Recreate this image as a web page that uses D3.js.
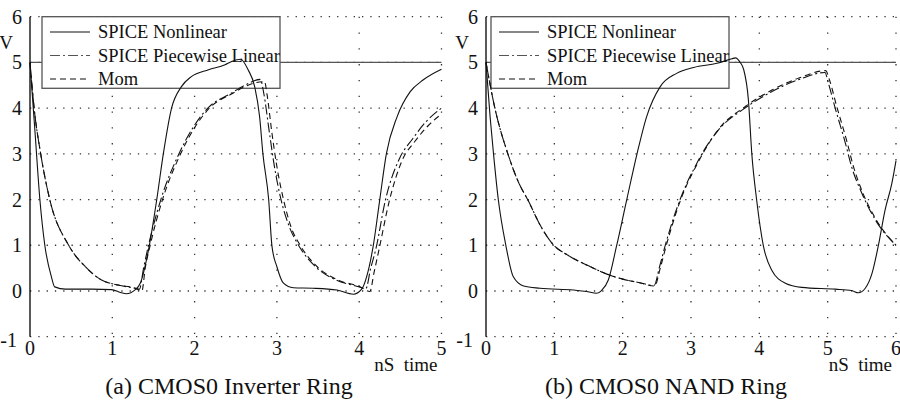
<!DOCTYPE html>
<html>
<head>
<meta charset="utf-8">
<script src="https://cdn.jsdelivr.net/npm/d3@7"></script>
<style>
  body { margin: 0; background: #fff; }
  text { font-family: "Liberation Serif", "Times New Roman", serif; fill: #111; }
</style>
</head>
<body>
<div id="chart"></div>
<script>
// ---- data ----
var yTicks = [-1, 0, 1, 2, 3, 4, 5, 6];
var seriesNames = ["SPICE Nonlinear", "SPICE Piecewise Linear", "Mom"];

// (a) inverter ring
var invNonT = [0, 0.06, 0.12, 0.18, 0.26, 0.30, 0.43, 0.75, 0.99, 1.11, 1.17, 1.28, 1.34, 1.44, 1.54, 1.62, 1.72, 1.84, 1.96, 2.17, 2.37, 2.45, 2.56, 2.65, 2.73, 2.79, 2.83, 2.90, 2.94, 3.0, 3.08, 3.2, 3.44, 3.73, 3.93, 4.03, 4.09, 4.17, 4.25, 4.33, 4.46, 4.62, 4.78, 5.0];
var invNonV = [4.98, 3.5, 2.0, 1.0, 0.31, 0.09, 0.04, 0.04, 0.03, -0.04, -0.06, 0.03, 0.17, 0.9, 2.0, 3.0, 4.0, 4.47, 4.69, 4.84, 4.95, 5.02, 5.07, 4.84, 4.47, 3.81, 3.0, 2.0, 0.98, 0.53, 0.17, 0.07, 0.06, 0.02, -0.07, 0.04, 0.31, 0.98, 2.0, 3.0, 3.81, 4.36, 4.62, 4.85];
var invPwlT = [0, 0.05, 0.13, 0.24, 0.47, 0.69, 0.87, 1.07, 1.28, 1.33, 1.38, 1.44, 1.59, 1.81, 2.16, 2.45, 2.61, 2.80, 2.84, 2.91, 2.97, 3.05, 3.15, 3.27, 3.47, 3.72, 3.98, 4.08, 4.14, 4.20, 4.32, 4.49, 4.65, 4.81, 5.0];
var invPwlV = [5, 4, 3, 2, 1, 0.5, 0.24, 0.13, 0.06, 0.04, 0.5, 1.0, 2.0, 3.0, 4.0, 4.33, 4.5, 4.63, 4.33, 3.45, 2.72, 2.0, 1.41, 0.98, 0.53, 0.24, 0.10, 0.05, 0.5, 0.9, 2.0, 2.9, 3.33, 3.7, 4.0];
var invMomT = [0, 0.05, 0.13, 0.24, 0.47, 0.69, 0.87, 1.07, 1.28, 1.36, 1.40, 1.46, 1.61, 1.83, 2.18, 2.46, 2.62, 2.85, 2.88, 2.94, 3.00, 3.08, 3.17, 3.29, 3.49, 3.74, 4.0, 4.13, 4.18, 4.24, 4.37, 4.52, 4.68, 4.84, 5.0];
var invMomV = [5, 4, 3, 2, 1, 0.5, 0.24, 0.13, 0.06, 0.0, 0.5, 1.0, 2.0, 3.0, 4.0, 4.32, 4.48, 4.58, 4.3, 3.45, 2.72, 2.0, 1.41, 0.98, 0.53, 0.24, 0.10, -0.01, 0.4, 0.9, 2.0, 2.85, 3.28, 3.62, 3.87];

// (b) NAND ring
var nandNonT = [0, 0.06, 0.11, 0.18, 0.29, 0.40, 0.55, 0.79, 1.28, 1.47, 1.62, 1.69, 1.79, 1.91, 2.06, 2.21, 2.35, 2.55, 2.79, 3.04, 3.38, 3.60, 3.65, 3.72, 3.77, 3.84, 3.89, 3.96, 4.06, 4.18, 4.38, 4.62, 5.11, 5.35, 5.45, 5.55, 5.65, 5.74, 5.84, 5.94, 6.0];
var nandNonV = [5, 3.81, 3.0, 2.0, 1.0, 0.31, 0.11, 0.06, 0.02, -0.01, -0.05, 0.01, 0.24, 0.98, 2.0, 3.0, 3.81, 4.47, 4.76, 4.89, 4.98, 5.08, 5.1, 5.0, 4.85, 4.18, 3.0, 2.0, 0.98, 0.46, 0.17, 0.08, 0.04, 0.01, -0.04, 0.06, 0.39, 0.98, 1.77, 2.36, 2.85];
var nandPwlT = [0, 0.13, 0.32, 0.5, 0.61, 0.8, 0.98, 1.2, 1.5, 1.75, 2.0, 2.25, 2.46, 2.54, 2.62, 2.84, 2.94, 3.06, 3.16, 3.40, 3.79, 4.18, 4.57, 4.96, 5.01, 5.11, 5.26, 5.35, 5.50, 5.70, 6.0];
var nandPwlV = [5, 4, 3, 2.3, 2, 1.42, 1.02, 0.78, 0.55, 0.38, 0.26, 0.18, 0.12, 0.53, 0.98, 2.0, 2.36, 2.72, 3.0, 3.52, 4.0, 4.36, 4.62, 4.78, 4.55, 4.0, 3.23, 2.72, 2.14, 1.55, 1.0];
var nandMomT = [0, 0.13, 0.32, 0.5, 0.61, 0.8, 0.98, 1.2, 1.5, 1.75, 2.0, 2.25, 2.47, 2.55, 2.63, 2.85, 2.95, 3.07, 3.17, 3.41, 3.80, 4.19, 4.58, 4.97, 5.03, 5.13, 5.28, 5.37, 5.51, 5.71, 6.0];
var nandMomV = [5, 4, 3, 2.3, 2, 1.42, 1.02, 0.78, 0.55, 0.38, 0.26, 0.18, 0.11, 0.5, 0.95, 2.0, 2.36, 2.72, 3.0, 3.55, 4.04, 4.4, 4.66, 4.82, 4.6, 4.05, 3.28, 2.76, 2.16, 1.56, 1.0];

var panels = [
  { xMax: 5, left: 30, right: 441.5, legendX: 42, captionX: 229, caption: "(a) CMOS0 Inverter Ring",
    series: [[invNonT, invNonV], [invPwlT, invPwlV], [invMomT, invMomV]] },
  { xMax: 6, left: 486, right: 896, legendX: 491, captionX: 666, caption: "(b) CMOS0 NAND Ring",
    series: [[nandNonT, nandNonV], [nandPwlT, nandPwlV], [nandMomT, nandMomV]] }
];

// styles per series: solid, dash-dot, dashed
var dashes = [null, "10,3,2,3", "6,4"];

var svg = d3.select("#chart").append("svg")
  .attr("width", 900)
  .attr("height", 404);

var y = d3.scaleLinear().domain([-1, 6]).range([336.7, 16.7]);

panels.forEach(function (p) {
  var x = d3.scaleLinear().domain([0, p.xMax]).range([p.left, p.right]);
  var g = svg.append("g");

  // dotted grid
  g.selectAll(".hgrid").data(yTicks).enter().append("line")
    .attr("x1", p.left).attr("x2", p.right)
    .attr("y1", function (d) { return y(d); })
    .attr("y2", function (d) { return y(d); })
    .attr("stroke", "#333").attr("stroke-width", 1.3)
    .attr("stroke-dasharray", "1.3,7");
  g.selectAll(".vgrid").data(d3.range(1, p.xMax + 1)).enter().append("line")
    .attr("x1", function (d) { return x(d); })
    .attr("x2", function (d) { return x(d); })
    .attr("y1", y(6)).attr("y2", y(-1))
    .attr("stroke", "#333").attr("stroke-width", 1.3)
    .attr("stroke-dasharray", "1.3,14.5");

  // 5V rail
  g.append("line")
    .attr("x1", p.left).attr("x2", p.right)
    .attr("y1", y(5)).attr("y2", y(5))
    .attr("stroke", "#555").attr("stroke-width", 1.3);

  // y axis
  g.append("line")
    .attr("x1", p.left).attr("x2", p.left)
    .attr("y1", y(6)).attr("y2", y(-1))
    .attr("stroke", "#000").attr("stroke-width", 1.3);

  // tick labels
  g.selectAll(".ylab").data(yTicks).enter().append("text")
    .attr("x", function (d) { return d < 0 ? p.left - 13 : p.left - 8; })
    .attr("y", function (d) { return y(d) + (d < 0 ? 3 : 0); })
    .attr("dy", "0.35em")
    .attr("text-anchor", "end")
    .style("font-size", "20px")
    .text(function (d) { return d; });
  g.selectAll(".xlab").data(d3.range(0, p.xMax + 1)).enter().append("text")
    .attr("x", function (d) { return x(d); })
    .attr("y", 355)
    .attr("text-anchor", "middle")
    .style("font-size", "20px")
    .text(function (d) { return d; });

  g.append("text")
    .attr("x", p.left - 24).attr("y", 49)
    .attr("text-anchor", "middle")
    .style("font-size", "19px")
    .text("V");
  g.append("text")
    .attr("x", p.right - 4).attr("y", 371)
    .attr("text-anchor", "end")
    .attr("xml:space", "preserve")
    .style("font-size", "19px")
    .style("white-space", "pre")
    .text("nS  time");
  g.append("text")
    .attr("x", p.captionX).attr("y", 394)
    .attr("text-anchor", "middle")
    .style("font-size", "24px")
    .text(p.caption);

  // legend box (white, sits on top of the grid)
  g.append("rect")
    .attr("x", p.legendX).attr("y", y(6))
    .attr("width", 238).attr("height", 71.6)
    .attr("fill", "#fff")
    .attr("stroke", "#555").attr("stroke-width", 1.3);

  // curves
  var line = d3.line()
    .x(function (d) { return x(d[0]); })
    .y(function (d) { return y(d[1]); })
    .curve(d3.curveMonotoneX);
  p.series.forEach(function (s, i) {
    var pts = d3.zip(s[0], s[1]);
    g.append("path")
      .datum(pts)
      .attr("d", line)
      .attr("fill", "none")
      .attr("stroke", "#111")
      .attr("stroke-width", 1.1)
      .attr("stroke-dasharray", dashes[i]);
  });

  // legend entries
  seriesNames.forEach(function (name, i) {
    var ry = 32 + i * 23.5;
    g.append("line")
      .attr("x1", p.legendX + 8).attr("x2", p.legendX + 48)
      .attr("y1", ry).attr("y2", ry)
      .attr("stroke", i == 1 ? "#555" : "#111")
      .attr("stroke-width", 1.1)
      .attr("stroke-dasharray", dashes[i] || null);
    g.append("text")
      .attr("x", p.legendX + 56).attr("y", ry)
      .attr("dy", "0.35em")
      .style("font-size", "18.5px")
      .text(name);
  });
});
</script>
</body>
</html>
